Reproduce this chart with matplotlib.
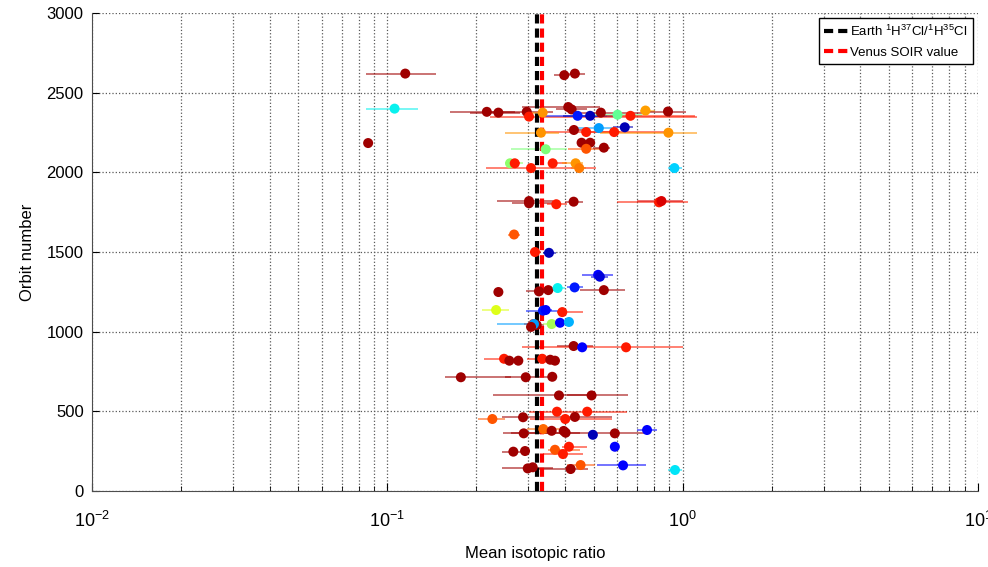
import numpy as np
import matplotlib
matplotlib.use("Agg")
import matplotlib.pyplot as plt
from matplotlib.ticker import FixedLocator, FixedFormatter, LogLocator, NullFormatter

plt.rcParams['font.family'] = ['Liberation Sans', 'DejaVu Sans']
plt.rcParams['mathtext.fontset'] = 'custom'
plt.rcParams['mathtext.rm'] = 'Liberation Sans'
plt.rcParams['mathtext.it'] = 'Liberation Sans'

# reference ratios
earth_ratio = 0.32
soir_ratio = 0.335

orbit = [2620, 2610, 2620, 2400, 2380, 2375, 2380, 2375, 2410, 2395,
         2375, 2388, 2382, 2350, 2355, 2355, 2362, 2355, 2266, 2253,
         2278, 2253, 2283, 2249, 2249, 2186, 2186, 2148, 2155, 2145,
         2184, 2057, 2057, 2057, 2057, 2027, 2027, 2027, 1820, 1806,
         1800, 1816, 1812, 1820, 1610, 1500, 1495, 1357, 1345, 1249,
         1253, 1261, 1274, 1278, 1261, 1136, 1132, 1136, 1123, 1048,
         1042, 1048, 1048, 1056, 1061, 1030, 910, 902, 902, 830,
         818, 818, 830, 824, 818, 714, 714, 717, 600, 600,
         498, 498, 452, 463, 452, 465, 389, 378, 377, 366,
         362, 353, 362, 383, 278, 247, 251, 259, 278, 232,
         142, 149, 138, 163, 161, 132]
ratio = [0.1150, 0.3972, 0.4316, 0.1058, 0.2172, 0.2377, 0.2965, 0.3357, 0.4098, 0.4207,
         0.5284, 0.7482, 0.8920, 0.3018, 0.4408, 0.4861, 0.6017, 0.6656, 0.4283, 0.4713,
         0.5202, 0.5861, 0.6367, 0.8948, 0.3313, 0.4547, 0.4861, 0.4713, 0.5409, 0.3437,
         0.0861, 0.2603, 0.2700, 0.3629, 0.4340, 0.3066, 0.4463, 0.9375, 0.3018, 0.3018,
         0.3733, 0.4273, 0.8317, 0.8474, 0.2686, 0.3162, 0.3526, 0.5174, 0.5243, 0.2377,
         0.3261, 0.3507, 0.3773, 0.4306, 0.5409, 0.2335, 0.3365, 0.3437, 0.3912, 0.3121,
         0.3204, 0.3137, 0.3601, 0.3842, 0.4120, 0.3066, 0.4273, 0.4568, 0.6431, 0.2484,
         0.2589, 0.2777, 0.3346, 0.3562, 0.3695, 0.1774, 0.2942, 0.3618, 0.3812, 0.4915,
         0.3753, 0.4750, 0.2268, 0.2881, 0.4003, 0.4316, 0.3373, 0.3601, 0.3954, 0.4015,
         0.2896, 0.4965, 0.5893, 0.7575, 0.5893, 0.2671, 0.2926, 0.3695, 0.4120, 0.3933,
         0.2988, 0.3106, 0.4175, 0.4512, 0.6282, 0.9419]
ratio_lo = [0.0849, 0.3666, 0.4000, 0.0849, 0.1632, 0.1907, 0.2228, 0.3042, 0.2858, 0.3733,
            0.4316, 0.7156, 0.7268, 0.2228, 0.3418, 0.3933, 0.4739, 0.5243, 0.4056, 0.3418,
            0.4220, 0.4861, 0.5802, 0.5243, 0.2504, 0.4400, 0.4700, 0.4098, 0.4965, 0.2623,
            0.0861, 0.2504, 0.2563, 0.3499, 0.3903, 0.2161, 0.4200, 0.8898, 0.2353, 0.2644,
            0.3472, 0.3994, 0.5984, 0.7000, 0.2563, 0.3042, 0.3365, 0.4558, 0.4900, 0.2330,
            0.2949, 0.3300, 0.3600, 0.4056, 0.4487, 0.2094, 0.2949, 0.3300, 0.3753, 0.2900,
            0.3000, 0.2353, 0.3365, 0.3700, 0.4000, 0.3000, 0.3753, 0.4400, 0.2858, 0.2127,
            0.2540, 0.2720, 0.2972, 0.3500, 0.3620, 0.1570, 0.2500, 0.3550, 0.2281, 0.4056,
            0.3018, 0.4650, 0.2029, 0.2446, 0.3042, 0.4230, 0.2972, 0.3520, 0.3870, 0.3930,
            0.2465, 0.4860, 0.2628, 0.6991, 0.5700, 0.2446, 0.2870, 0.3499, 0.3903, 0.3365,
            0.2446, 0.3040, 0.2972, 0.4056, 0.5122, 0.8898]
ratio_hi = [0.1464, 0.4150, 0.4666, 0.1272, 0.2706, 0.2814, 0.3638, 0.3418, 0.5243, 0.4739,
            0.7440, 0.8042, 1.0240, 1.1150, 0.5537, 0.6123, 0.7268, 1.0980, 0.4739, 0.6123,
            0.5802, 0.8828, 0.6777, 1.1150, 0.3812, 0.4700, 0.5000, 0.5243, 0.5669, 0.4056,
            0.0861, 0.2881, 0.2814, 0.4056, 0.4594, 0.5082, 0.4700, 0.9922, 0.3638, 0.3638,
            0.4056, 0.4594, 1.0400, 1.0000, 0.2814, 0.3313, 0.3733, 0.5802, 0.5600, 0.2430,
            0.3638, 0.3700, 0.4000, 0.4594, 0.6367, 0.2583, 0.3773, 0.3600, 0.4594, 0.3300,
            0.3400, 0.3211, 0.3842, 0.4000, 0.4250, 0.3200, 0.4965, 0.4700, 1.0000, 0.2563,
            0.2640, 0.2840, 0.3694, 0.3620, 0.3770, 0.2628, 0.3500, 0.3690, 0.4965, 0.6517,
            0.6466, 0.4850, 0.2504, 0.5756, 0.5756, 0.4400, 0.3812, 0.3680, 0.4040, 0.4100,
            0.4487, 0.5070, 0.7499, 0.8170, 0.6100, 0.2949, 0.2990, 0.4487, 0.4739, 0.4594,
            0.3638, 0.3170, 0.4776, 0.5042, 0.7499, 0.9922]
# colour value on the jet scale
cval = [0.97, 0.97, 0.97, 0.36, 0.97, 0.97, 0.97, 0.75, 0.97, 0.97,
        0.97, 0.74, 0.97, 0.88, 0.15, 0.05, 0.47, 0.88, 0.97, 0.88,
        0.28, 0.88, 0.05, 0.75, 0.75, 0.97, 0.97, 0.82, 0.97, 0.50,
        0.97, 0.52, 0.88, 0.88, 0.75, 0.88, 0.78, 0.33, 0.97, 0.97,
        0.88, 0.97, 0.88, 0.92, 0.82, 0.88, 0.05, 0.12, 0.08, 0.97,
        0.97, 0.97, 0.36, 0.15, 0.97, 0.62, 0.15, 0.12, 0.88, 0.88,
        0.97, 0.28, 0.55, 0.12, 0.30, 0.97, 0.97, 0.12, 0.88, 0.88,
        0.97, 0.97, 0.88, 0.97, 0.97, 0.97, 0.97, 0.97, 0.97, 0.97,
        0.88, 0.88, 0.82, 0.97, 0.88, 0.97, 0.80, 0.97, 0.97, 0.97,
        0.97, 0.05, 0.97, 0.12, 0.12, 0.97, 0.97, 0.82, 0.88, 0.88,
        0.97, 0.97, 0.97, 0.82, 0.12, 0.35]

xticks = [0.01, 0.1, 1, 10]
xtick_labels = [r'$10^{-2}$', r'$10^{-1}$', r'$10^{0}$', r'$10^{1}$']
yticks = [0, 500, 1000, 1500, 2000, 2500, 3000]

cmap = plt.get_cmap('jet')

fig = plt.figure(figsize=(9.88, 5.67), dpi=100)
ax = fig.add_axes([0.0931, 0.134, 0.8968, 0.843])
ax.set_xscale('log')

cols = cmap(np.array(cval))
ax.hlines(orbit, ratio_lo, ratio_hi, colors=cols, alpha=0.55, lw=1.4, zorder=2)
ax.axvline(earth_ratio, color='black', ls=(0, (2.2, 1.2)), lw=3, zorder=3,
           label=r'Earth $^{1}$H$^{37}$Cl/$^{1}$H$^{35}$Cl')
ax.axvline(soir_ratio, color='red', ls=(0, (2.2, 1.2)), lw=3, zorder=3,
           label='Venus SOIR value')
ax.scatter(ratio, orbit, c=cols, s=52, edgecolors='none', zorder=4)

ax.set_xlim(0.01, 10)
ax.set_ylim(0, 3000)
ax.xaxis.set_major_locator(FixedLocator(xticks))
ax.xaxis.set_major_formatter(FixedFormatter(xtick_labels))
ax.xaxis.set_minor_locator(LogLocator(base=10, subs=np.arange(2, 10)))
ax.xaxis.set_minor_formatter(NullFormatter())
ax.set_yticks(yticks)

ax.grid(True, which='both', axis='x', ls=':', color='0.35', lw=0.9)
ax.grid(True, which='major', axis='y', ls=':', color='0.35', lw=0.9)
ax.set_axisbelow(True)
for s in ['top', 'right']:
    ax.spines[s].set_visible(False)
ax.spines['left'].set_color('0.3')
ax.spines['bottom'].set_color('0.3')

ax.tick_params(axis='x', which='major', direction='in', length=6, pad=14, labelsize=13)
ax.tick_params(axis='x', which='minor', direction='in', length=3.5)
ax.tick_params(axis='y', direction='in', length=5, pad=6, labelsize=12)

ax.set_xlabel('Mean isotopic ratio', fontsize=12, labelpad=11)
ax.set_ylabel('Orbit number', fontsize=12, labelpad=8)

leg = ax.legend(loc='upper right', fontsize=9.5, fancybox=False, framealpha=1,
                edgecolor='black', handlelength=1.8, handletextpad=0.2,
                borderaxespad=0.4, labelspacing=0.6)
leg.get_frame().set_linewidth(1.0)

fig.savefig('out.png', dpi=100)
